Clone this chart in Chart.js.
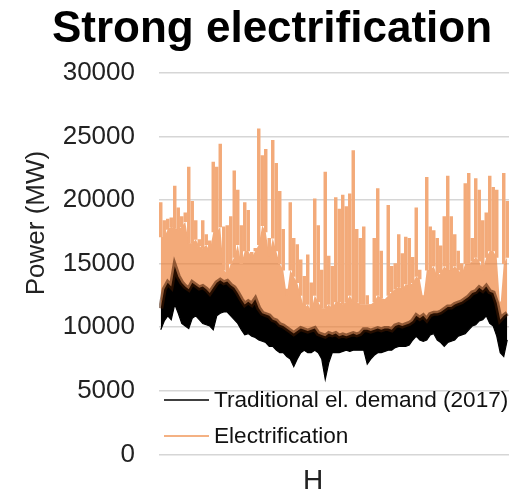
<!DOCTYPE html>
<html>
<head>
<meta charset="utf-8">
<script src="https://cdn.jsdelivr.net/npm/chart.js@4.4.1/dist/chart.umd.min.js"></script>
<style>
  html, body { margin: 0; padding: 0; background: #fff; }
  #wrap { width: 517px; height: 494px; position: relative; }
</style>
</head>
<body>
<div id="wrap"><canvas id="c"></canvas></div>
<script>
// ---- Data (hourly series summarised per bin of ~88 h) ----
const titleText = "Strong electrification";
const yAxisTitle = "Power (MW)";
const xAxisTitle = "H";
const seriesNames = ["Traditional el. demand (2017)", "Electrification"];
const yTicks = [0, 5000, 10000, 15000, 20000, 25000, 30000];
const hoursInYear = 8760;

// Traditional demand: lowest / highest value in each bin
const tradLow = [
  9800, 10500, 10900, 10600, 11800, 11100, 10300, 10100, 9900, 10700, 10900, 10600, 10300, 10200, 10100, 9800, 10900, 11100, 11200,
  11200, 10900, 10600, 10300, 9800, 9400, 9500, 9300, 9200, 9000, 8900, 8800, 8500, 8500, 8200, 8000, 8000, 7700, 7500, 6900, 7500,
  8000, 8200, 8000, 8000, 8200, 8000, 7500, 5900, 7200, 8000, 8000, 8000, 8100, 8200, 8100, 8200, 8200, 8200, 8200,
  7100, 7500, 7800, 8000, 8000, 8100, 8200, 8200, 8400, 8500, 8500, 8500, 8600, 9000, 9300, 9000, 8900, 9000, 9400, 9500,
  9000, 8800, 8500, 8800, 8900, 9000, 9300, 9400, 9500, 9800, 10100, 10200, 10500, 10600, 10900, 10300, 10100, 9300, 8000, 7700, 9000
];
const tradHigh = [
  11500, 13000, 13500, 13200, 14800, 14000, 13500, 13200, 13000, 13500, 13300, 13100, 13200, 13000, 12700, 13100, 13500, 13700, 13500,
  13600, 13300, 13100, 12700, 12200, 11800, 12000, 11800, 12200, 11500, 11100, 11000, 10900, 10600, 10500, 10200, 10100, 9900, 9700, 9500, 9700,
  9900, 9800, 9700, 9800, 9900, 9500, 9400, 9300, 9500, 9400, 9500, 9300, 9400, 9300, 9400, 9500, 9400, 9500, 9800,
  9800, 9700, 9800, 9900, 9800, 9900, 9900, 9800, 10100, 10200, 10100, 10200, 10300, 10500, 10900, 10700, 10900, 10600, 11000, 11100,
  11100, 11200, 11400, 11600, 11600, 11800, 11900, 12000, 12200, 12400, 12700, 12800, 13100, 12900, 13200, 12800, 12700, 11900, 10600, 10900, 11100
];
// Electrification: lowest value, top of the dense band, and peak in each bin
const elecLow = [
  11400, 11800, 12000, 11900, 12500, 12200, 11700, 11500, 11300, 12000, 12000, 11800, 11600, 11500, 11400, 11200, 12000, 12200, 12300,
  12200, 11900, 11600, 11300, 10900, 10500, 10600, 10300, 10200, 10000, 9800, 9700, 9400, 9300, 9100, 8900, 8800, 8600, 8400, 7900, 8300,
  8600, 8800, 8600, 8600, 8800, 8500, 8100, 6800, 7800, 8500, 8500, 8500, 8600, 8700, 8600, 8700, 8700, 8700, 8800,
  7800, 8100, 8400, 8500, 8500, 8600, 8800, 8800, 9000, 9100, 9100, 9100, 9200, 9600, 9900, 9700, 9600, 9700, 10100, 10200,
  9800, 9600, 9400, 9600, 9700, 9800, 10000, 10100, 10300, 10500, 10800, 10900, 11200, 11300, 11600, 11100, 10800, 10100, 8700, 8500, 9800
];
const elecBand = [
  17100, 17100, 17700, 17900, 17800, 17700, 17900, 18300, 16600, 16600, 16900, 16400, 16200, 16500, 16000, 17500, 17500, 17900, 14500,
  14200, 15000, 15500, 16500, 15000, 16000, 16000, 15500, 16000, 16500, 18000, 17500, 15600, 17000, 16000, 15000, 14500, 12500, 14500, 14000, 13500,
  12500, 11500, 11800, 11300, 12500, 12000, 11500, 11500, 11800, 11500, 12000, 12000, 11800, 12000, 12500, 12000, 12000, 11800, 11800,
  11800, 11800, 12000, 12500, 12300, 12200, 12500, 12800, 13000, 13200, 13000, 13400, 13300, 13500, 14000, 13800, 12200, 14500, 14500, 14800,
  14000, 14300, 14800, 14500, 14500, 14800, 14500, 14200, 15000, 15000, 15200, 15500, 15200, 14500, 15500, 16000, 16000, 15500, 11500, 15000, 15500
];
const elecHigh = [
  19800, 18400, 18500, 18600, 21100, 19400, 18700, 19000, 22600, 19900, 18400, 16900, 18400, 17300, 16800, 23000, 22600, 24400, 17900,
  18000, 18700, 22300, 20800, 18000, 19800, 19200, 15900, 16200, 25600, 23500, 24000, 17000, 24700, 22900, 20700, 17700, 13000, 19800, 17000, 16500,
  15300, 14000, 15700, 13500, 20100, 18000, 14500, 22200, 15600, 14800, 20200, 19300, 20400, 19500, 20500, 23900, 17700, 17000, 17900,
  12500, 11800, 17000, 20900, 16000, 12200, 19600, 14800, 15000, 17300, 15800, 17100, 17000, 15500, 19400, 14500, 12500, 21800, 17900, 17600,
  17000, 16400, 18700, 21900, 18700, 17300, 16000, 15000, 21300, 22100, 17000, 21700, 20800, 18400, 19000, 21900, 21000, 20800, 12000, 22100, 19900
];

// ---- Build point lists at bin centres ----
const binHours = hoursInYear / elecHigh.length;
const centre = i => (i + 0.5) * binHours;
const pts = arr => arr.map((v, i) => ({ x: centre(i), y: v }));
const spikes = elecHigh.map((v, i) => ({ x: centre(i), y: [elecBand[i], v] }));

const ORANGE = 'rgba(237,125,49,0.65)';
const ORANGE_FLAT = '#F3AA79';
const ORANGE_SOLID = '#F4B183';
const FONT = '"Liberation Sans", Arial, sans-serif';

const textPlugin = {
  id: 'texts',
  afterDraw(chart) {
    const ctx = chart.ctx;
    ctx.save();
    ctx.fillStyle = '#000';
    ctx.font = 'bold 44px ' + FONT;
    ctx.textAlign = 'center';
    ctx.textBaseline = 'alphabetic';
    ctx.fillText(titleText, 272, 42);

    ctx.save();
    ctx.translate(37, 223);
    ctx.rotate(-Math.PI / 2);
    ctx.font = '26px ' + FONT;
    ctx.textBaseline = 'middle';
    ctx.fillStyle = '#222';
    ctx.fillText(yAxisTitle, 0, 0);
    ctx.restore();

    ctx.font = '28px ' + FONT;
    ctx.textBaseline = 'middle';
    ctx.fillStyle = '#222';
    ctx.fillText(xAxisTitle, 313, 481);

    const rows = [{ y: 400, color: '#000', w: 1.5 }, { y: 436, color: ORANGE_SOLID, w: 2 }];
    ctx.textAlign = 'left';
    ctx.font = '22.6px ' + FONT;
    rows.forEach((r, i) => {
      ctx.beginPath();
      ctx.strokeStyle = r.color;
      ctx.lineWidth = r.w;
      ctx.moveTo(164, r.y);
      ctx.lineTo(209, r.y);
      ctx.stroke();
      ctx.fillStyle = '#111';
      ctx.fillText(seriesNames[i], 214, r.y + 1);
    });
    ctx.restore();
  }
};

const lineCommon = { pointRadius: 0, tension: 0 };

new Chart(document.getElementById('c'), {
  type: 'line',
  data: {
    datasets: [
      // Traditional demand: solid black band (drawn last, on top), with a brownish fringe on its upper edge
      { ...lineCommon, label: seriesNames[0], data: pts(tradHigh), borderColor: 'rgba(70,25,0,0.55)', borderWidth: 5,
        backgroundColor: '#000', fill: { target: 1 }, order: 1 },
      { ...lineCommon, label: seriesNames[0] + ' low', data: pts(tradLow), borderColor: '#000', borderWidth: 1.2,
        fill: false, order: 2 },
      // Electrification: dense band plus individual peaks
      { ...lineCommon, label: seriesNames[1], data: pts(elecBand), borderWidth: 0, borderColor: 'rgba(0,0,0,0)',
        backgroundColor: ORANGE, fill: { target: 3 }, order: 4 },
      { ...lineCommon, label: seriesNames[1] + ' low', data: pts(elecLow), borderWidth: 0, borderColor: 'rgba(0,0,0,0)',
        fill: false, order: 5 },
      { type: 'bar', label: seriesNames[1] + ' peaks', data: spikes, backgroundColor: ORANGE_FLAT, borderWidth: 0,
        barThickness: 2.8, order: 3 }
    ]
  },
  options: {
    responsive: true,
    maintainAspectRatio: false,
    animation: false,
    layout: { padding: { left: 20, right: 8, top: 73, bottom: 39 } },
    plugins: {
      legend: { display: false },
      title: { display: false },
      tooltip: { enabled: false }
    },
    scales: {
      x: {
        type: 'linear',
        min: 0,
        max: hoursInYear,
        offset: false,
        display: false
      },
      y: {
        min: yTicks[0],
        max: yTicks[yTicks.length - 1],
        afterBuildTicks(scale) { scale.ticks = yTicks.map(v => ({ value: v })); },
        afterFit(scale) { scale.width = 139; },
        border: { display: false },
        grid: { color: '#d6d6d6', lineWidth: 1.6, drawTicks: false },
        ticks: {
          padding: 24,
          color: '#222',
          font: { family: FONT, size: 26 },
          callback: v => String(v)
        }
      }
    }
  },
  plugins: [textPlugin]
});
</script>
</body>
</html>
